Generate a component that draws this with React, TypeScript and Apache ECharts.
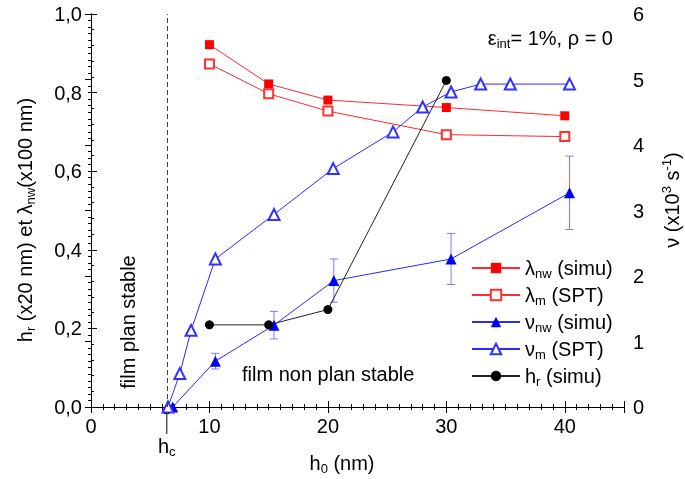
import React, { useEffect, useRef } from 'react';
import * as echarts from 'echarts';

// ---- data ----
const hcValue = 6.4;
const lambdaX = [10, 15, 20, 30, 40];
const lambdaNw = [0.922, 0.822, 0.781, 0.762, 0.741];
const lambdaM = [0.873, 0.797, 0.753, 0.693, 0.688];
const nuNwX = [6.9, 10.5, 15.45, 20.5, 30.4, 40.4];
const nuNw = [0, 0.70, 1.25, 1.93, 2.26, 3.27];
const nuNwErr = [0, 0.12, 0.21, 0.33, 0.39, 0.56];
const nuMX = [6.5, 7.5, 8.45, 10.5, 15.45, 20.45, 25.5, 28, 30.4, 32.9, 35.4, 40.4];
const nuM = [0, 0.51, 1.17, 2.26, 2.94, 3.64, 4.2, 4.58, 4.81, 4.93, 4.93, 4.93];
const hrX = [10, 15, 20, 30];
const hr = [0.209, 0.209, 0.248, 0.831];

const seriesNames = ['lnw', 'lm', 'nnw', 'nm', 'hr'];
const legendLabels: Record<string, string> = {
  lnw: '{t|λ}{sub|nw}{t| (simu)}',
  lm: '{t|λ}{sub|m}{t| (SPT)}',
  nnw: '{t|ν}{sub|nw}{t| (simu)}',
  nm: '{t|ν}{sub|m}{t| (SPT)}',
  hr: '{t|h}{sub|r}{t| (simu)}',
};

const FONT = '"Liberation Sans", Arial, sans-serif';
const rich: any = {
  t: { fontSize: 20, lineHeight: 24, fontFamily: FONT, color: '#000' },
  sub: { fontSize: 13, lineHeight: 13, verticalAlign: 'bottom', fontFamily: FONT, color: '#000' },
  sup: { fontSize: 13, lineHeight: 13, verticalAlign: 'top', fontFamily: FONT, color: '#000' },
};
const richG: any = {
  t: { fontSize: 20, lineHeight: 24, fontFamily: FONT, fill: '#000' },
  sub: { fontSize: 13, lineHeight: 13, verticalAlign: 'bottom', fontFamily: FONT, fill: '#000' },
  sup: { fontSize: 13, lineHeight: 13, verticalAlign: 'top', fontFamily: FONT, fill: '#000' },
};

const zip = (xs: number[], ys: number[]) => xs.map((x, i) => [x, ys[i]]);

export default function App() {
  const ref = useRef<HTMLDivElement>(null);
  useEffect(() => {
    if (!ref.current) return;
    const chart = echarts.init(ref.current, undefined, { renderer: 'svg' });
    const axisLine = { show: true, lineStyle: { color: '#000', width: 1 } };
    const axisTick = { show: true, inside: true, length: 6, lineStyle: { color: '#000' } };
    const minorX = { show: true, splitNumber: 10, length: 3, lineStyle: { color: '#000' } };
    const labelBase = { color: '#000', fontSize: 20, fontFamily: FONT };
    const option: any = {
      animation: false,
      textStyle: { fontFamily: FONT },
      grid: { left: 91, right: 61, top: 14, bottom: 72 },
      legend: {
        data: seriesNames,
        orient: 'vertical',
        left: 466,
        top: 253,
        itemWidth: 48,
        itemHeight: 13,
        itemGap: 5,
        formatter: (n: string) => legendLabels[n],
        textStyle: { rich, fontSize: 20, fontFamily: FONT },
        selectedMode: false,
      },
      xAxis: [
        {
          type: 'value', min: 0, max: 45, interval: 10, position: 'bottom',
          axisLine, axisTick, minorTick: minorX, splitLine: { show: false },
          axisLabel: { ...labelBase, margin: 9, formatter: (v: number) => (v > 40 ? '' : String(v)) },
        },
        {
          type: 'value', min: 0, max: 45, interval: 10, position: 'top',
          axisLine, axisTick, minorTick: minorX, splitLine: { show: false },
          axisLabel: { show: false },
        },
      ],
      yAxis: [
        {
          type: 'value', min: 0, max: 1, interval: 0.2, position: 'left',
          axisLine, axisTick,
          minorTick: { show: true, splitNumber: 5, length: 3, lineStyle: { color: '#000' } },
          splitLine: { show: false },
          axisLabel: { ...labelBase, margin: 9, formatter: (v: number) => v.toFixed(1).replace('.', ',') },
        },
        {
          type: 'value', min: 0, max: 6, interval: 1, position: 'right',
          axisLine, axisTick,
          minorTick: { show: true, splitNumber: 10, length: 3, lineStyle: { color: '#000' } },
          splitLine: { show: false },
          axisLabel: { ...labelBase, margin: 9 },
        },
      ],
      series: [
        {
          type: 'custom', name: 'err', xAxisIndex: 0, yAxisIndex: 1, silent: true, z: 1,
          data: nuNwX.map((x, i) => [x, nuNw[i] - nuNwErr[i], nuNw[i] + nuNwErr[i]]).filter((d, i) => nuNwErr[i] > 0),
          renderItem: (params: any, api: any) => {
            const lo = api.coord([api.value(0), api.value(1)]);
            const hi = api.coord([api.value(0), api.value(2)]);
            const w = 4;
            const style = { stroke: '#7a7aff', lineWidth: 1 };
            return {
              type: 'group',
              children: [
                { type: 'line', shape: { x1: lo[0], y1: lo[1], x2: hi[0], y2: hi[1] }, style },
                { type: 'line', shape: { x1: lo[0] - w, y1: lo[1], x2: lo[0] + w, y2: lo[1] }, style },
                { type: 'line', shape: { x1: hi[0] - w, y1: hi[1], x2: hi[0] + w, y2: hi[1] }, style },
              ],
            };
          },
        },
        {
          name: 'lnw', type: 'line', xAxisIndex: 0, yAxisIndex: 0, data: zip(lambdaX, lambdaNw),
          symbol: 'rect', symbolSize: 9, itemStyle: { color: '#ff0000', borderWidth: 0 },
          lineStyle: { color: '#ff2a2a', width: 1 }, z: 3,
        },
        {
          name: 'lm', type: 'line', xAxisIndex: 0, yAxisIndex: 0, data: zip(lambdaX, lambdaM),
          symbol: 'emptyRect', symbolSize: 9, itemStyle: { color: '#ff3030', borderWidth: 1.2 },
          lineStyle: { color: '#ff2a2a', width: 1 }, z: 3,
        },
        {
          name: 'nnw', type: 'line', xAxisIndex: 0, yAxisIndex: 1, data: zip(nuNwX, nuNw),
          symbol: 'triangle', symbolSize: 11, itemStyle: { color: '#0000ff', borderWidth: 0 },
          lineStyle: { color: '#2a2aff', width: 1 }, z: 3,
        },
        {
          name: 'nm', type: 'line', xAxisIndex: 0, yAxisIndex: 1, data: zip(nuMX, nuM),
          symbol: 'emptyTriangle', symbolSize: 11, itemStyle: { color: '#3030ff', borderWidth: 1.2 },
          lineStyle: { color: '#2a2aff', width: 1 }, z: 3,
        },
        {
          name: 'hr', type: 'line', xAxisIndex: 0, yAxisIndex: 0, data: zip(hrX, hr),
          symbol: 'circle', symbolSize: 9, itemStyle: { color: '#000', borderWidth: 0 },
          lineStyle: { color: '#222', width: 1 }, z: 3,
          markLine: {
            silent: true, symbol: ['none', 'none'], label: { show: false },
            lineStyle: { type: [5, 3], color: '#444', width: 1 },
            data: [{ xAxis: hcValue }],
          },
        },
      ],
    };
    chart.setOption(option);
    const hcPx = chart.convertToPixel({ xAxisIndex: 0 }, hcValue) as number;
    chart.setOption({
      graphic: [
        {
          type: 'text', x: 25, y: 220, rotation: Math.PI / 2,
          style: { text: '{t|h}{sub|r}{t| (x20 nm) et λ}{sub|nw}{t|(x100 nm)}', rich: richG, align: 'center', verticalAlign: 'middle' },
        },
        {
          type: 'text', x: 672, y: 200, rotation: Math.PI / 2,
          style: { text: '{t|ν (x10}{sup|3}{t| s}{sup|-1}{t|)}', rich: richG, align: 'center', verticalAlign: 'middle' },
        },
        {
          type: 'text', x: 342, y: 463,
          style: { text: '{t|h}{sub|0}{t| (nm)}', rich: richG, align: 'center', verticalAlign: 'middle' },
        },
        {
          type: 'text', x: hcPx, y: 446,
          style: { text: '{t|h}{sub|c}', rich: richG, align: 'center', verticalAlign: 'middle' },
        },
        { type: 'line', shape: { x1: hcPx, y1: 434, x2: hcPx, y2: 412 }, style: { stroke: '#000', lineWidth: 1 } },
        { type: 'polygon', shape: { points: [[hcPx - 3, 414], [hcPx + 3, 414], [hcPx, 407]] }, style: { fill: '#000' } },
        {
          type: 'text', x: 128, y: 322, rotation: Math.PI / 2,
          style: { text: 'film plan stable', font: `20px ${FONT}`, fill: '#000', align: 'center', verticalAlign: 'middle' },
        },
        {
          type: 'text', x: 242, y: 374,
          style: { text: 'film non plan stable', font: `20px ${FONT}`, fill: '#000', align: 'left', verticalAlign: 'middle' },
        },
        {
          type: 'text', x: 613, y: 38,
          style: { text: '{t|ε}{sub|int}{t|= 1%, ρ = 0}', rich: richG, align: 'right', verticalAlign: 'middle' },
        },
      ],
    });
    return () => chart.dispose();
  }, []);
  return <div ref={ref} style={{ position: 'fixed', left: 0, top: 0, width: 685, height: 479 }} />;
}
